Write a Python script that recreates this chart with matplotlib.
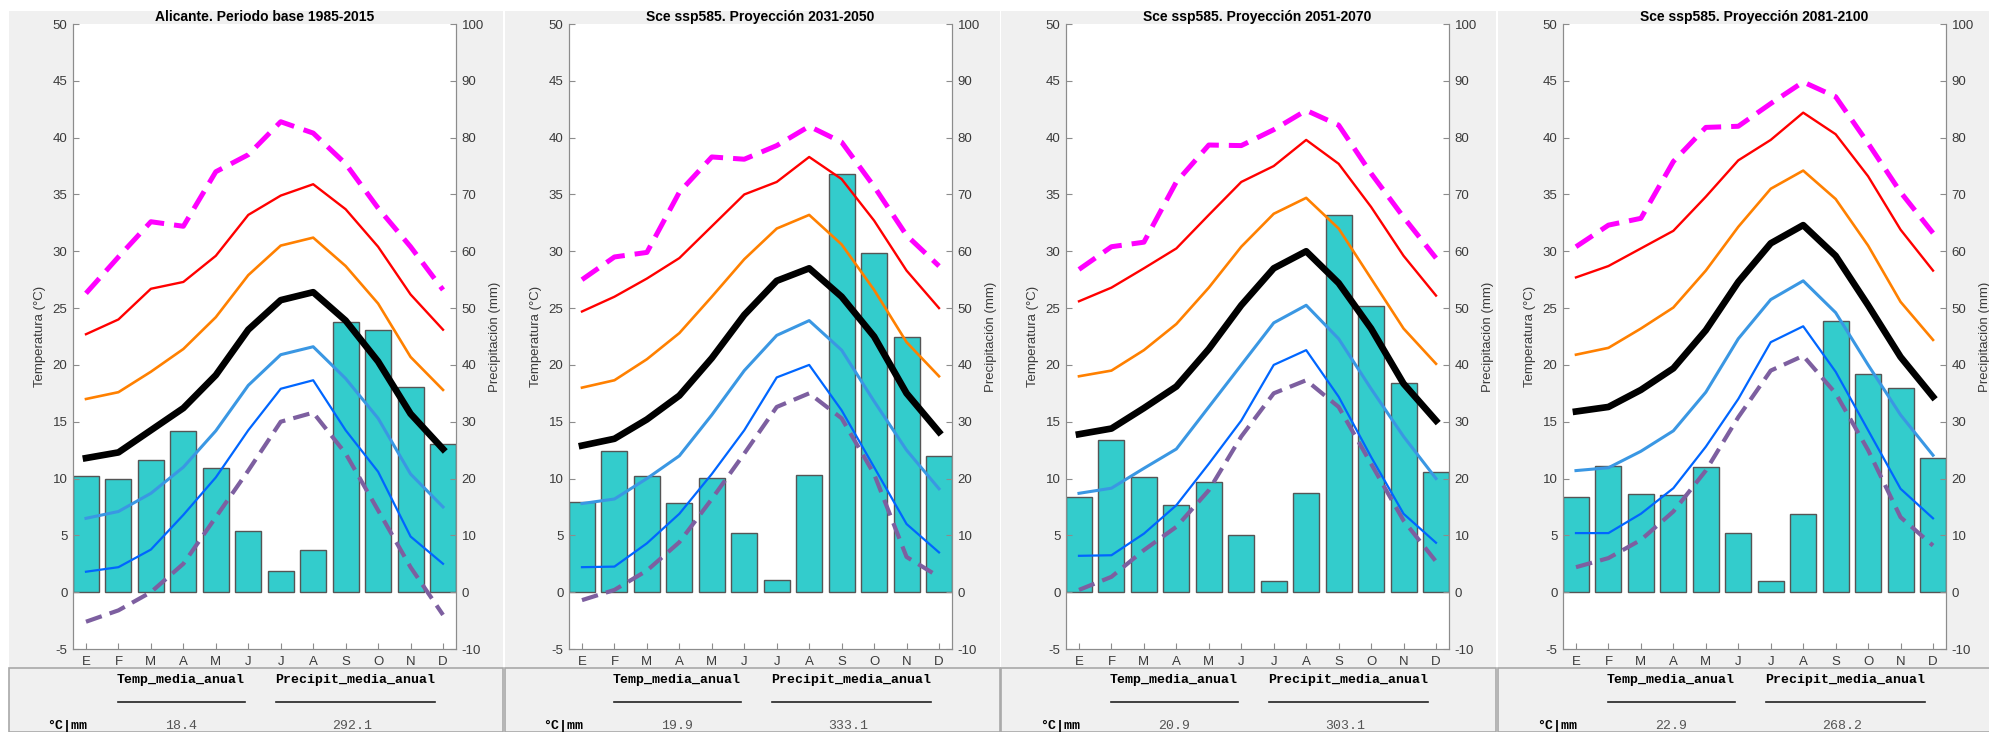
import matplotlib
matplotlib.use("Agg")
from matplotlib import pyplot as plt
from matplotlib.patches import Rectangle
from matplotlib.lines import Line2D
import numpy as np

plt.rcParams["font.family"] = ["Liberation Sans", "DejaVu Sans"]
plt.rcParams["axes.unicode_minus"] = False

# monthly data, one row per panel (base 1985-2015, 2031-2050, 2051-2070, 2081-2100)
titles = ["Alicante. Periodo base 1985-2015",
          "Sce ssp585. Proyección 2031-2050",
          "Sce ssp585. Proyección 2051-2070",
          "Sce ssp585. Proyección 2081-2100"]
months = ["E", "F", "M", "A", "M", "J", "J", "A", "S", "O", "N", "D"]

t_max_abs = [[26.3, 29.5, 32.6, 32.2, 37.0, 38.5, 41.4, 40.4, 37.7, 33.8, 30.4, 26.6],
             [27.5, 29.5, 29.9, 35.2, 38.3, 38.1, 39.3, 41.0, 39.6, 35.7, 31.4, 28.7],
             [28.4, 30.4, 30.8, 36.1, 39.35, 39.3, 40.7, 42.4, 41.1, 36.85, 33.0, 29.4],
             [30.4, 32.3, 32.9, 37.9, 40.9, 41.0, 43.0, 44.9, 43.6, 39.5, 35.2, 31.6]]
t_max_ext = [[22.7, 24.0, 26.7, 27.3, 29.6, 33.2, 34.9, 35.9, 33.7, 30.4, 26.2, 23.1],
             [24.7, 26.0, 27.6, 29.4, 32.2, 35.0, 36.1, 38.3, 36.35, 32.7, 28.3, 25.0],
             [25.6, 26.8, 28.5, 30.25, 33.2, 36.1, 37.5, 39.8, 37.7, 33.9, 29.6, 26.1],
             [27.7, 28.7, 30.25, 31.8, 34.8, 38.0, 39.8, 42.2, 40.3, 36.6, 31.9, 28.3]]
t_max_mean = [[17.0, 17.6, 19.4, 21.4, 24.2, 27.9, 30.5, 31.2, 28.7, 25.4, 20.7, 17.8],
              [18.0, 18.65, 20.5, 22.8, 26.0, 29.3, 32.0, 33.2, 30.6, 26.6, 22.0, 19.0],
              [19.0, 19.5, 21.3, 23.6, 26.8, 30.4, 33.3, 34.7, 32.0, 27.6, 23.2, 20.1],
              [20.9, 21.5, 23.2, 25.05, 28.3, 32.15, 35.5, 37.1, 34.6, 30.5, 25.55, 22.2]]
t_mean = [[11.8, 12.3, 14.25, 16.2, 19.1, 23.1, 25.7, 26.4, 23.9, 20.3, 15.7, 12.6],
          [12.9, 13.5, 15.2, 17.3, 20.6, 24.4, 27.4, 28.5, 26.0, 22.5, 17.5, 14.1],
          [13.9, 14.4, 16.2, 18.1, 21.4, 25.25, 28.5, 30.0, 27.2, 23.2, 18.35, 15.1],
          [15.9, 16.3, 17.8, 19.7, 23.05, 27.3, 30.7, 32.3, 29.6, 25.25, 20.7, 17.2]]
t_min_mean = [[6.5, 7.1, 8.7, 11.0, 14.2, 18.2, 20.9, 21.6, 18.8, 15.3, 10.4, 7.5],
              [7.8, 8.2, 10.0, 12.0, 15.6, 19.5, 22.6, 23.9, 21.3, 16.8, 12.5, 9.1],
              [8.7, 9.15, 10.9, 12.6, 16.3, 20.0, 23.7, 25.25, 22.3, 17.9, 13.7, 10.0],
              [10.7, 10.95, 12.4, 14.2, 17.6, 22.3, 25.75, 27.4, 24.6, 20.0, 15.6, 12.05]]
t_min_ext = [[1.8, 2.2, 3.75, 6.8, 10.1, 14.25, 17.9, 18.65, 14.25, 10.6, 4.9, 2.5],
             [2.2, 2.25, 4.3, 6.9, 10.4, 14.25, 18.9, 20.0, 16.0, 11.0, 6.0, 3.5],
             [3.2, 3.25, 5.15, 7.65, 11.3, 15.1, 20.0, 21.3, 17.2, 11.9, 6.9, 4.35],
             [5.2, 5.2, 6.9, 9.15, 12.8, 17.0, 22.0, 23.4, 19.4, 14.25, 9.1, 6.5]]
t_min_abs = [[-2.6, -1.6, 0.0, 2.5, 6.6, 10.7, 15.0, 15.8, 12.2, 7.2, 2.2, -2.0],
             [-0.7, 0.2, 1.9, 4.4, 8.2, 12.2, 16.3, 17.5, 15.3, 10.4, 3.1, 1.35],
             [0.2, 1.35, 3.7, 5.75, 8.97, 13.7, 17.5, 18.65, 16.3, 11.3, 6.3, 2.7],
             [2.2, 3.0, 4.6, 7.1, 10.7, 15.4, 19.5, 20.8, 17.5, 12.5, 6.6, 4.1]]
precip = [[20.5, 20.0, 23.2, 28.3, 21.8, 10.8, 3.8, 7.4, 47.5, 46.2, 36.1, 26.1],
          [15.8, 24.9, 20.4, 15.7, 20.1, 10.4, 2.2, 20.6, 73.6, 59.7, 44.9, 24.0],
          [16.8, 26.7, 20.2, 15.4, 19.4, 10.0, 2.0, 17.5, 66.4, 50.3, 36.9, 21.1],
          [16.8, 22.2, 17.3, 17.1, 22.1, 10.4, 2.0, 13.8, 47.8, 38.4, 36.0, 23.6]]
temp_anual = ["18.4", "19.9", "20.9", "22.9"]
precip_anual = ["292.1", "333.1", "303.1", "268.2"]

W, H = 1990, 732
fig = plt.figure(figsize=(W / 100, H / 100), dpi=100)
fig.patch.set_facecolor("white")


def frac(x0, y0, w, h):
    # pixel box (top-left origin) -> figure fraction
    return [x0 / W, 1 - (y0 + h) / H, w / W, h / H]


panels = [(9, 503), (505, 1000), (1001, 1496), (1498, 1990)]
ax_left = [73, 569, 1066, 1563]
ax_top, ax_w, ax_h = 24, 383, 625

for a, b in panels:
    fig.patches.append(Rectangle((a / W, 0), (b - a) / W, (H - 11) / H,
                                 transform=fig.transFigure, facecolor="#f0f0f0",
                                 edgecolor="none", zorder=-10))
    fig.patches.append(Rectangle((a / W, 0), (b - a) / W, (H - 668) / H,
                                 transform=fig.transFigure, facecolor="none",
                                 edgecolor="#a8a8a8", lw=1.2, zorder=-9))

x = np.arange(1, 13)
spine_c = "#8c8c8c"
lab_c = "#3a3a3a"

for k in range(4):
    ax = fig.add_axes(frac(ax_left[k], ax_top, ax_w, ax_h))
    ax.set_facecolor("white")
    ax.bar(x, precip[k], width=0.8, color="#33cccc", edgecolor="#555555", linewidth=1)
    ax.set_ylim(-10, 100)
    ax.set_xlim(0.6, 12.4)
    ax.set_yticks(np.arange(-10, 101, 10))
    ax.set_xticks(x)
    ax.set_xticklabels(months)

    tx = ax.twinx()
    tx.set_ylim(-5, 50)
    tx.set_yticks(np.arange(-5, 51, 5))
    tx.plot(x, t_max_abs[k], color="#ff00ff", lw=3.6, ls=(0, (4, 2)))
    tx.plot(x, t_max_ext[k], color="#ff0000", lw=1.7)
    tx.plot(x, t_max_mean[k], color="#ff8000", lw=1.9)
    tx.plot(x, t_mean[k], color="black", lw=4.8)
    tx.plot(x, t_min_mean[k], color="#3a97e3", lw=2.2)
    tx.plot(x, t_min_ext[k], color="#0066ff", lw=1.6)
    tx.plot(x, t_min_abs[k], color="#7d5fa0", lw=3.0, ls=(0, (4, 2)))

    # swap sides: temperature on the left, precipitation on the right
    ax.yaxis.tick_right()
    ax.yaxis.set_label_position("right")
    tx.yaxis.tick_left()
    tx.yaxis.set_label_position("left")
    tx.set_ylabel("Temperatura (°C)", fontsize=9.5, color=lab_c, labelpad=5)
    ax.set_ylabel("Precipitación (mm)", fontsize=9.5, color=lab_c, labelpad=4)

    for a_ in (ax, tx):
        a_.spines["top"].set_visible(False)
        for s in ("left", "right", "bottom"):
            a_.spines[s].set_color(spine_c)
        a_.tick_params(direction="in", length=4.5, color=spine_c, labelcolor=lab_c,
                       labelsize=9.5, pad=4)
    ax.tick_params(axis="x", pad=5)
    tx.set_title(titles[k], fontsize=10, fontweight="bold", pad=2)

    # summary table below each chart
    l = ax_left[k]
    mono = "Liberation Mono"
    fig.text((l + 108) / W, 1 - 680 / H, "Temp_media_anual", family=mono,
             fontweight="bold", fontsize=9.5, ha="center", va="center")
    fig.text((l + 282) / W, 1 - 680 / H, "Precipit_media_anual", family=mono,
             fontweight="bold", fontsize=9.5, ha="center", va="center")
    for x0, x1 in ((l + 45, l + 172), (l + 203, l + 362)):
        fig.add_artist(Line2D([x0 / W, x1 / W], [1 - 702 / H, 1 - 702 / H],
                              transform=fig.transFigure, color="#222222", lw=1.2))
    fig.text((l - 6) / W, 1 - 726 / H, "°C|mm", family=mono, fontweight="bold",
             fontsize=9.5, ha="center", va="center")
    fig.text((l + 108) / W, 1 - 726 / H, temp_anual[k], family=mono,
             fontsize=9.5, ha="center", va="center", color="#555555")
    fig.text((l + 279) / W, 1 - 726 / H, precip_anual[k], family=mono,
             fontsize=9.5, ha="center", va="center", color="#555555")

fig.savefig("out.png", dpi=100, facecolor=fig.get_facecolor())
